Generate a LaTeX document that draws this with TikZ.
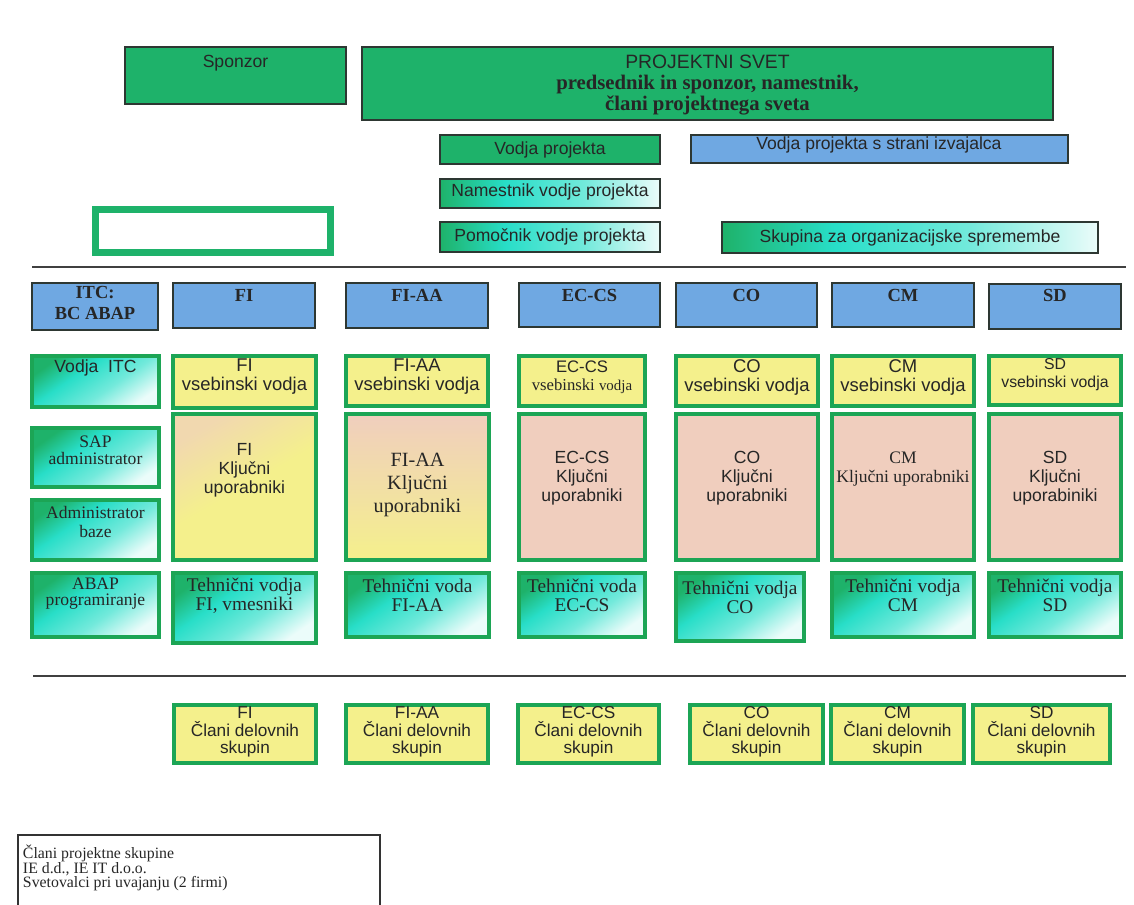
\documentclass[tikz,border=0pt]{standalone}
\usepackage{fontspec}
\setmainfont{Liberation Serif}
\setsansfont{Liberation Sans}
\usetikzlibrary{fit}
\definecolor{dgreen}{RGB}{30,178,106}
\definecolor{bgreen}{RGB}{28,165,85}
\definecolor{hblue}{RGB}{111,168,226}
\definecolor{ylw}{RGB}{244,240,140}
\definecolor{pnk}{RGB}{240,206,190}
\definecolor{turq}{RGB}{40,222,200}
\definecolor{pale}{RGB}{235,252,250}
\definecolor{edge}{RGB}{45,55,50}
\pgfdeclarehorizontalshading{gcw}{100bp}{color(0bp)=(dgreen); color(25bp)=(dgreen); color(40bp)=(turq); color(58bp)=(turq!65!white); color(75bp)=(pale); color(100bp)=(pale)}
\newcommand\rbox[6]{\node[#2, fit={(#3,#4) (#5,#6)}, inner sep=0pt, outer sep=0pt] (#1) {};}
\newcommand\fsn{\sffamily\fontsize{10}{10.8}\selectfont}
\newcommand\fsr{\rmfamily\fontsize{10}{10.8}\selectfont}
\newcommand\fhd{\rmfamily\bfseries\fontsize{10.5}{11.5}\selectfont}
\newcommand\fth{\rmfamily\fontsize{11}{10.8}\selectfont}
\newcommand\fcl{\sffamily\fontsize{9.8}{10}\selectfont}
\begin{document}
\begin{tikzpicture}[x=0.02cm,y=-0.02cm,
  every node/.style={inner sep=0pt, outer sep=0pt},
  frameA/.style={draw=edge, line width=0.9pt},
  topgreen/.style={frameA, fill=dgreen},
  topgrad/.style={frameA, shading=gcw, shading angle=0},
  hdr/.style={frameA, fill=hblue},
  gframe/.style={draw=bgreen, line width=2pt},
  ybox/.style={gframe, fill=ylw},
  pbox/.style={gframe, fill=pnk},
  gradbox/.style={gframe, shading=gcw, shading angle=-55},
  tx/.style={align=center, text=black!85},
  sep/.style={draw=black!75, line width=1.1pt}
]
\fill[white] (0,0) rectangle (1134,905);
\useasboundingbox (0,0) rectangle (1134,905);

% ---- top part
\rbox{spon}{topgreen}{125}{47}{346}{104}
\node[tx, font=\fsn] (sponT) at (235.5,63) {Sponzor};
\rbox{svet}{topgreen}{362}{47}{1053}{120}
\node[tx, font=\rmfamily\bfseries\fontsize{11.8}{12.2}\selectfont] (svetT) at (707.5,85)
  {{\sffamily\mdseries\fontsize{11}{12}\selectfont PROJEKTNI SVET}\\predsednik in sponzor, namestnik,\\člani projektnega sveta};
\rbox{vp}{topgreen}{440}{135}{660}{164}
\node[tx, font=\fsn] (vpT) at (550,150) {Vodja projekta};
\rbox{vpi}{hdr}{691}{135}{1068}{163}
\node[tx, font=\fsn] (vpiT) at (879,145) {Vodja projekta s strani izvajalca};
\rbox{nvp}{topgrad}{440}{179}{660}{208}
\node[tx, font=\fsn] (nvpT) at (550,192) {Namestnik vodje projekta};
\rbox{pvp}{topgrad}{440}{222}{660}{252}
\node[tx, font=\fsn] (pvpT) at (550,237) {Pomočnik vodje projekta};
\rbox{sos}{topgrad}{722}{222}{1098}{253}
\node[tx, font=\fsn] (sosT) at (910,238) {Skupina za organizacijske spremembe};
\rbox{empty}{draw=dgreen, line width=4pt, fill=white}{95.5}{209.5}{330.5}{252.5}

\coordinate (s1a) at (32,267); \coordinate (s1b) at (1126,267);
\draw[sep] (s1a) -- (s1b);

% ---- headers
\rbox{hITC}{hdr}{32}{283}{158}{330}
\node[tx, font=\fhd] (hITCT) at (95,303) {ITC:\\BC ABAP};
\rbox{hFI}{hdr}{173}{283}{315}{328}
\node[tx, font=\fhd] (hFIT) at (244,295) {FI};
\rbox{hFIAA}{hdr}{346}{283}{488}{328}
\node[tx, font=\fhd] (hFIAAT) at (417,295) {FI-AA};
\rbox{hEC}{hdr}{519}{283}{660}{327}
\node[tx, font=\fhd] (hECT) at (589.5,295) {EC-CS};
\rbox{hCO}{hdr}{676}{283}{817}{327}
\node[tx, font=\fhd] (hCOT) at (746.5,295) {CO};
\rbox{hCM}{hdr}{832}{283}{974}{327}
\node[tx, font=\fhd] (hCMT) at (903,295) {CM};
\rbox{hSD}{hdr}{989}{284}{1121}{329}
\node[tx, font=\fhd] (hSDT) at (1055,295) {SD};

% ---- vsebinski vodje
\rbox{vITC}{gradbox}{32}{356}{159}{407}
\node[tx, font=\fsn] (vITCT) at (95.5,368) {Vodja\ \ ITC};
\rbox{vFI}{ybox}{173}{356}{316}{408}
\node[tx, font=\sffamily\fontsize{10.5}{10.8}\selectfont] (vFIT) at (244.5,377) {FI\\vsebinski vodja};
\rbox{vFIAA}{ybox}{346}{356}{488}{406}
\node[tx, font=\sffamily\fontsize{10.5}{10.8}\selectfont] (vFIAAT) at (417,377) {FI-AA\\vsebinski vodja};
\rbox{vEC}{ybox}{519}{356}{645}{406}
\node[tx, font=\sffamily\fontsize{9.5}{10.5}\selectfont] (vECT) at (582,377) {EC-CS\\{\rmfamily vsebinski {\fontsize{8.5}{10}\selectfont vodja}}};
\rbox{vCO}{ybox}{676}{356}{818}{406}
\node[tx, font=\sffamily\fontsize{10.5}{10.8}\selectfont] (vCOT) at (747,377) {CO\\vsebinski vodja};
\rbox{vCM}{ybox}{832}{356}{974}{406}
\node[tx, font=\sffamily\fontsize{10.5}{10.8}\selectfont] (vCMT) at (903,377) {CM\\vsebinski vodja};
\rbox{vSD}{ybox}{989}{356}{1121}{405}
\node[tx, font=\sffamily\fontsize{9}{10.2}\selectfont] (vSDT) at (1055,375) {SD\\vsebinski vodja};

% ---- kljucni uporabniki
\rbox{kFI}{gframe, top color=pnk!70!ylw, bottom color=ylw, middle color=ylw, shading angle=30}{173}{414}{316}{560}
\node[tx, font=\fsn] (kFIT) at (244.5,470) {FI\\Ključni\\uporabniki};
\rbox{kFIAA}{gframe, top color=pnk, middle color=pnk!45!ylw, bottom color=ylw}{346}{414}{489}{560}
\node[tx, font=\rmfamily\fontsize{11.5}{13}\selectfont] (kFIAAT) at (417.5,485) {FI-AA\\Ključni\\uporabniki};
\rbox{kEC}{pbox}{519}{414}{645}{560}
\node[tx, font=\fsn] (kECT) at (582,478) {EC-CS\\Ključni\\uporabniki};
\rbox{kCO}{pbox}{676}{414}{818}{560}
\node[tx, font=\fsn] (kCOT) at (747,478) {CO\\Ključni\\uporabniki};
\rbox{kCM}{pbox}{832}{414}{974}{560}
\node[tx, font=\fsr] (kCMT) at (903,469) {CM\\Ključni uporabniki};
\rbox{kSD}{pbox}{989}{414}{1121}{560}
\node[tx, font=\fsn] (kSDT) at (1055,478) {SD\\Ključni\\uporabiniki};

% ---- ITC column
\rbox{sap}{gradbox}{32}{428}{159}{487}
\node[tx, font=\rmfamily\fontsize{10}{9.7}\selectfont] (sapT) at (95.5,450) {SAP\\administrator};
\rbox{adb}{gradbox}{32}{500}{159}{560}
\node[tx, font=\rmfamily\fontsize{10}{10.8}\selectfont] (adbT) at (95.5,522) {Administrator\\baze};
\rbox{abap}{gradbox}{32}{573}{159}{637}
\node[tx, font=\rmfamily\fontsize{10}{9.4}\selectfont] (abapT) at (95.5,593.5) {ABAP\\programiranje};

% ---- tehnicni vodje
\rbox{tFI}{gradbox}{173}{573}{316}{643}
\node[tx, font=\fth] (tFIT) at (244.5,596) {Tehnični vodja\\FI, vmesniki};
\rbox{tFIAA}{gradbox}{346}{573}{489}{637}
\node[tx, font=\fth] (tFIAAT) at (417.5,595) {Tehnični voda\\FI-AA};
\rbox{tEC}{gradbox}{519}{573}{645}{637}
\node[tx, font=\fth] (tECT) at (582,595) {Tehnični voda\\EC-CS};
\rbox{tCO}{gradbox}{676}{573}{804}{641}
\node[tx, font=\fth] (tCOT) at (740,597) {Tehnični vodja\\CO};
\rbox{tCM}{gradbox}{832}{573}{974}{637}
\node[tx, font=\fth] (tCMT) at (903,595) {Tehnični vodja\\CM};
\rbox{tSD}{gradbox}{989}{573}{1121}{637}
\node[tx, font=\fth] (tSDT) at (1055,595) {Tehnični vodja\\SD};

\coordinate (s2a) at (33,676); \coordinate (s2b) at (1126,676);
\draw[sep] (s2a) -- (s2b);

% ---- clani delovnih skupin
\rbox{cFI}{ybox}{174}{705}{316}{763}
\node[tx, font=\fcl] (cFIT) at (245,732) {FI\\Člani delovnih\\skupin};
\rbox{cFIAA}{ybox}{346}{705}{488}{763}
\node[tx, font=\fcl] (cFIAAT) at (417,732) {FI-AA\\Člani delovnih\\skupin};
\rbox{cEC}{ybox}{518}{705}{659}{763}
\node[tx, font=\fcl] (cECT) at (588.5,732) {EC-CS\\Člani delovnih\\skupin};
\rbox{cCO}{ybox}{690}{705}{823}{763}
\node[tx, font=\fcl] (cCOT) at (756.5,732) {CO\\Člani delovnih\\skupin};
\rbox{cCM}{ybox}{831}{705}{964}{763}
\node[tx, font=\fcl] (cCMT) at (897.5,732) {CM\\Člani delovnih\\skupin};
\rbox{cSD}{ybox}{973}{705}{1110}{763}
\node[tx, font=\fcl] (cSDT) at (1041.5,732) {SD\\Člani delovnih\\skupin};

% ---- legend
\rbox{leg}{draw=black!80, line width=0.8pt, fill=white}{18}{835}{380}{915}
\node[align=left, anchor=north west, text=black!85, font=\rmfamily\fontsize{9}{8.3}\selectfont] (legT) at (23,845)
  {Člani projektne skupine\\IE d.d., IE IT d.o.o.\\Svetovalci pri uvajanju (2 firmi)};
\end{tikzpicture}
\end{document}
